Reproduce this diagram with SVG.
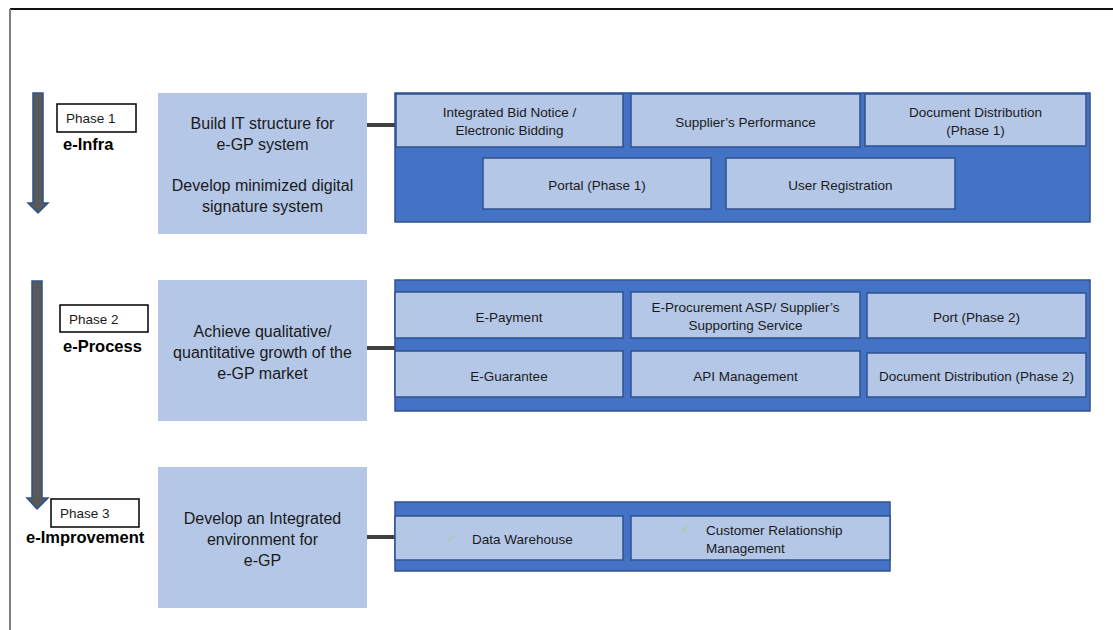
<svg xmlns="http://www.w3.org/2000/svg" width="1113" height="630" viewBox="0 0 1113 630">
<style>
.frameT{stroke:#111;stroke-width:2;fill:none}
.frameL{stroke:#7f7f7f;stroke-width:2;fill:none}
.goal{fill:#B4C7E7}
.cont{fill:#4472C4;stroke:#2F528F;stroke-width:1.5}
.item{fill:#B4C7E7;stroke:#2F528F;stroke-width:1.5}
.ph{fill:#fff;stroke:#000;stroke-width:1.5}
.arr{fill:#595959;stroke:#2F528F;stroke-width:1.5}
.conn{stroke:#404040;stroke-width:4;fill:none}
text{font-family:"Liberation Sans",Arial,sans-serif;fill:#1a1a1a}
.t13{font-size:16px;text-anchor:middle}
.t12{font-size:13.5px;text-anchor:middle}
.tp{font-size:13.5px}
.tb{font-size:16.5px;font-weight:bold;fill:#000}
.chk{font-size:12px;fill:#a9d18e}
</style>
<rect width="1113" height="630" fill="#fff"/>
<line class="frameT" x1="10" y1="9" x2="1113" y2="9"/>
<line class="frameL" x1="10" y1="9" x2="10" y2="630"/>

<g id="arrow1"><path class="arr" d="M33,93 H43 V203 H48 L38,213 L28,203 H33 Z"/></g>
<g id="arrow2"><path class="arr" d="M32,281 H42 V498 H48 L37,509 L27,498 H32 Z"/></g>

<g id="phase1">
<rect class="ph" x="57" y="104" width="79" height="28"/>
<text class="tp" x="66" y="123">Phase 1</text>
<text class="tb" x="63" y="150">e-Infra</text>
</g>
<g id="phase2">
<rect class="ph" x="60" y="305" width="88" height="27"/>
<text class="tp" x="69" y="324">Phase 2</text>
<text class="tb" x="63" y="352">e-Process</text>
</g>
<g id="phase3">
<rect class="ph" x="51" y="499" width="88" height="28"/>
<text class="tp" x="60" y="518">Phase 3</text>
<text class="tb" x="26" y="543">e-Improvement</text>
</g>

<g id="goal1">
<rect class="goal" x="158" y="93" width="209" height="141"/>
<text class="t13" x="262.5" y="129">Build IT structure for</text>
<text class="t13" x="262.5" y="150">e-GP system</text>
<text class="t13" x="262.5" y="191">Develop minimized digital</text>
<text class="t13" x="262.5" y="212">signature system</text>
</g>
<g id="goal2">
<rect class="goal" x="158" y="280" width="209" height="141"/>
<text class="t13" x="262.5" y="337">Achieve qualitative/</text>
<text class="t13" x="262.5" y="358">quantitative growth of the</text>
<text class="t13" x="262.5" y="379">e-GP market</text>
</g>
<g id="goal3">
<rect class="goal" x="158" y="467" width="209" height="141"/>
<text class="t13" x="262.5" y="524">Develop an Integrated</text>
<text class="t13" x="262.5" y="545">environment for</text>
<text class="t13" x="262.5" y="566">e-GP</text>
</g>

<g id="connectors">
<line class="conn" x1="367" y1="125" x2="396" y2="125"/>
<line class="conn" x1="367" y1="348" x2="396" y2="348"/>
<line class="conn" x1="367" y1="537" x2="396" y2="537"/>
</g>

<g id="phase1-systems">
<rect class="cont" x="395" y="93" width="695" height="129"/>
<g id="bid"><rect class="item" x="396" y="94" width="227" height="53"/>
<text class="t12" x="509.5" y="117">Integrated Bid Notice /</text>
<text class="t12" x="509.5" y="135">Electronic Bidding</text></g>
<g id="supplier-perf"><rect class="item" x="631" y="94" width="229" height="53"/>
<text class="t12" x="745.5" y="127">Supplier’s Performance</text></g>
<g id="docdist1"><rect class="item" x="865" y="94" width="221" height="52"/>
<text class="t12" x="975.5" y="117">Document Distribution</text>
<text class="t12" x="975.5" y="135">(Phase 1)</text></g>
<g id="portal1"><rect class="item" x="483" y="158" width="228" height="51"/>
<text class="t12" x="597" y="190">Portal (Phase 1)</text></g>
<g id="userreg"><rect class="item" x="726" y="158" width="229" height="51"/>
<text class="t12" x="840.5" y="190">User Registration</text></g>
</g>

<g id="phase2-systems">
<rect class="cont" x="395" y="280" width="695" height="131"/>
<g id="epay"><rect class="item" x="395" y="292" width="228" height="46"/>
<text class="t12" x="509" y="322">E-Payment</text></g>
<g id="eproc"><rect class="item" x="631" y="292" width="229" height="46"/>
<text class="t12" x="745.5" y="312">E-Procurement ASP/ Supplier’s</text>
<text class="t12" x="745.5" y="330">Supporting Service</text></g>
<g id="port2"><rect class="item" x="867" y="293" width="219" height="45"/>
<text class="t12" x="976.5" y="322">Port (Phase 2)</text></g>
<g id="eguar"><rect class="item" x="395" y="351" width="228" height="46"/>
<text class="t12" x="509" y="381">E-Guarantee</text></g>
<g id="api"><rect class="item" x="631" y="351" width="229" height="46"/>
<text class="t12" x="745.5" y="381">API Management</text></g>
<g id="docdist2"><rect class="item" x="867" y="353" width="219" height="44"/>
<text class="t12" x="976.5" y="381">Document Distribution (Phase 2)</text></g>
</g>

<g id="phase3-systems">
<rect class="cont" x="395" y="502" width="495" height="69"/>
<g id="dw"><rect class="item" x="395" y="516" width="228" height="44"/>
<text class="chk" x="447" y="542">✓</text>
<text class="t12" x="472" y="544" style="text-anchor:start">Data Warehouse</text></g>
<g id="crm"><rect class="item" x="631" y="516" width="259" height="44"/>
<text class="chk" x="681" y="533">✓</text>
<text class="t12" x="706" y="535" style="text-anchor:start">Customer Relationship</text>
<text class="t12" x="706" y="553" style="text-anchor:start">Management</text></g>
</g>
</svg>
